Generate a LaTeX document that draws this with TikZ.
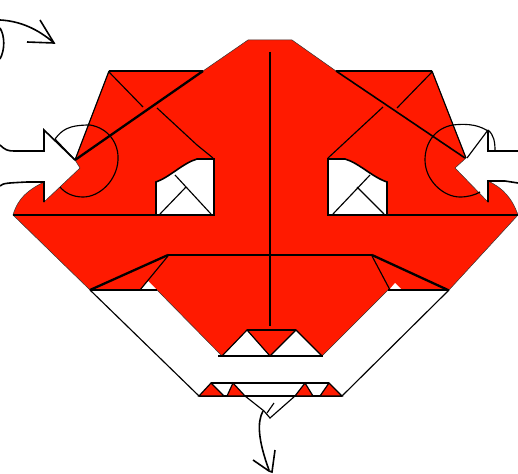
\documentclass[tikz,border=0pt]{standalone}
\definecolor{foldred}{HTML}{FF1A00}
\tikzset{
  fine/.style={draw=black,line width=1.15pt},
  med/.style={draw=black,line width=1.6pt},
  heavy/.style={draw=black,line width=2.3pt},
  redfill/.style={fill=foldred,draw=black,line width=1.2pt,line join=miter},
  hole/.style={fill=white},
}
\begin{document}
\begin{tikzpicture}[x=1pt,y=-1pt]
\useasboundingbox (0,0) rectangle (518,473);
% main red body
\fill[foldred,draw=black!80,line width=0.5pt] (248,40) -- (292,40) -- (336,71) -- (432,71) -- (466,158) -- (455,168) -- (488,202) -- (488,181)
  .. controls (503,188) and (512,198) .. (518,215) -- (449,290) -- (388,290) -- (322,356) -- (296,330) -- (270,356) -- (247,330) -- (222,356)
  -- (157,290) -- (90,290) -- (13,215) .. controls (18,198) and (28,190) .. (44,182) -- (44,202) -- (80,168) -- (75,160) -- (109,71) -- (203,71) -- cycle;
% windows
\path[hole,med] (214,215) -- (214,159) -- (197,159) .. controls (183,163) and (170,177) .. (156,182) -- (156,215) -- cycle;
\path[hole,med] (328,215) -- (328,159) -- (345,159) .. controls (359,163) and (372,177) .. (387,182) -- (387,215) -- cycle;
\draw[fine] (175,175) -- (211,214) (160,214) -- (186,187);
\draw[fine] (370,175) -- (333,214) (357,187) -- (384,214);
% small white triangles
\fill[white] (140,290) -- (148,281) -- (157,290) -- cycle;
\fill[white] (389,290) -- (395,283) -- (402,290) -- cycle;
% horizontals and centre
\draw[med] (13,215) -- (214,215);
\draw[med] (328,215) -- (518,215);
\draw[med] (270,52) -- (270,326);
\draw[med] (168,255) -- (372,255);
\draw[heavy] (168,255) -- (90,290);
\draw[heavy] (372,255) -- (448,290);
\draw[med] (90,290) -- (157,290);
\draw[med] (388,290) -- (449,290);
\draw[fine] (168,256) -- (140,290);
\draw[fine] (372,256) -- (390,290);
% creases upper
\draw[heavy] (75,160) -- (203,71);
\draw[med] (109,71) -- (203,71);
\draw[med] (336,71) -- (432,71);
\draw[med] (336,71) -- (465,158);
\draw[fine] (109,72) -- (143,107) (157,108) -- (197,145) -- (213,158);
\draw[fine] (432,72) -- (397,108) (383,107) -- (328,158);
\draw[fine] (432,71) -- (466,158);
\draw[fine] (109,71) -- (75,160);
% big arcs
\draw[fine] (90,125) .. controls (108,128) and (119,143) .. (118,160) .. controls (117,180) and (100,197) .. (83,197) .. controls (73,197) and (65,193) .. (60,187);
\draw[fine] (453,125) .. controls (435,128) and (425,143) .. (425,160) .. controls (425,180) and (443,197) .. (460,197) .. controls (468,197) and (475,195) .. (480,192);
% white arrows edges
\draw[med] (0,145) .. controls (5,150) and (8,151) .. (14,151) -- (44,151) -- (44,130) -- (75,160);
\draw[med] (0,186) .. controls (3,183) and (8,183) .. (27,182) -- (44,182) -- (44,202);
\draw[fine] (55,139) -- (75,160);
\draw[fine] (55,139) .. controls (62,130) and (68,125) .. (90,125);
\draw[med] (518,151) -- (488,151) -- (488,130);
\draw[fine] (488,130) -- (467,158);
\draw[fine] (453,125) .. controls (470,123) and (480,126) .. (488,131);
\draw[fine] (488,130) .. controls (494,135) and (495,142) .. (495,151);
\draw[med] (518,183) -- (505,181) -- (488,181) -- (488,202);
% lower paper
\draw[fine] (90,290) -- (199,396);
\draw[fine] (449,290) -- (342,396);
\draw[med] (218,356) -- (323,356);
\draw[med] (247,330) -- (296,330);
\draw[fine] (222,356) -- (247,330) -- (270,356) -- (296,330) -- (322,356);
\draw[med] (211,383) -- (329,383);
\draw[med] (199,396) -- (342,396);
\path[redfill] (199,396) -- (211,383) -- (224,396) -- cycle;
\path[redfill] (227,396) -- (233,383) -- (245,396) -- cycle;
\path[redfill] (295,396) -- (305,383) -- (313,396) -- cycle;
\path[redfill] (320,396) -- (329,383) -- (342,396) -- cycle;
\fill[white] (245.8,397.2) -- (294.2,397.2) -- (270,418) -- (264,411) -- cycle;
\draw[fine] (245,396) -- (264,411);
\draw[fine] (295,396) -- (270,418) -- (264,411);
\draw[fine] (267,413) -- (274,403);
% arrows
\draw[med] (0,20) .. controls (20,21) and (38,29) .. (54,43);
\draw[med] (40,20) -- (54,43) -- (27,42);
\draw[med] (0,28) .. controls (5,36) and (5,50) .. (0,59);
\draw[med] (263,411) .. controls (257,422) and (258,440) .. (269,470);
\draw[med] (253,460) -- (269,471) -- (272,472) -- (275,450);
\end{tikzpicture}
\end{document}
